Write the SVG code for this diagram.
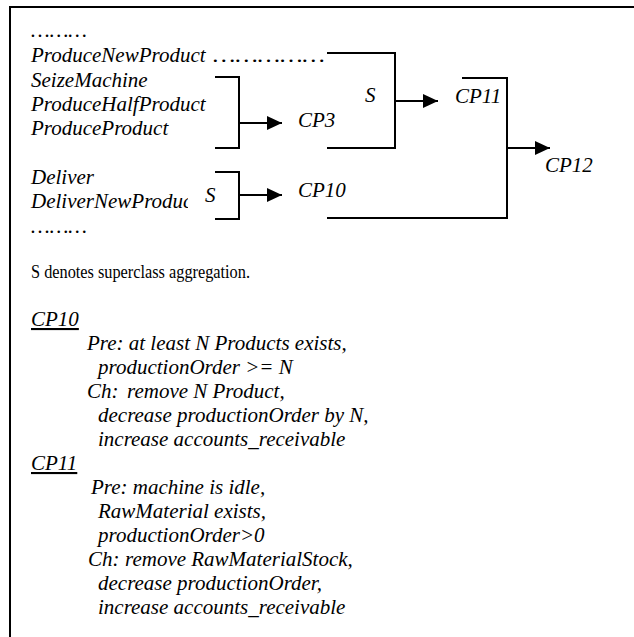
<svg xmlns="http://www.w3.org/2000/svg" width="634" height="637" viewBox="0 0 634 637">
<style>
text{font-family:"Liberation Serif","Times New Roman",serif;fill:#000}
.i{font-style:italic;font-size:21px}
.r{font-size:19px}
.u{text-decoration:underline}
.ln{stroke:#000;stroke-width:2;fill:none}
</style>
<defs>
<marker id="ah" markerUnits="userSpaceOnUse" markerWidth="16" markerHeight="15" refX="15" refY="7" orient="auto">
<path d="M0,0 L15,7 L0,14 z" fill="#000"/>
</marker>
<clipPath id="clipD"><rect x="0" y="180" width="188" height="40"/></clipPath>
</defs>
<rect width="634" height="637" fill="#fff"/>
<g id="frame">
<path class="ln" d="M10,637 V7 H634"/>
</g>
<g id="events">
<text class="i" x="31" y="37">………</text>
<text class="i" x="31" y="62">ProduceNewProduct</text>
<text class="i" x="213" y="62" textLength="112" lengthAdjust="spacingAndGlyphs">……………</text>
<text class="i" x="31" y="87">SeizeMachine</text>
<text class="i" x="31" y="111">ProduceHalfProduct</text>
<text class="i" x="31" y="135">ProduceProduct</text>
<text class="i" x="31" y="184">Deliver</text>
<text class="i" x="31" y="208" clip-path="url(#clipD)">DeliverNewProduc</text>
<text class="i" x="31" y="233">………</text>
</g>
<g id="CP3"><text class="i" x="298" y="127">CP3</text></g>
<g id="CP10"><text class="i" x="298" y="197">CP10</text></g>
<g id="CP11"><text class="i" x="455" y="103">CP11</text></g>
<g id="CP12"><text class="i" x="545" y="172">CP12</text></g>
<g id="connectors">
<path class="ln" d="M215,77 H239 V148 H215"/>
<line class="ln" x1="239" y1="123" x2="282" y2="123" marker-end="url(#ah)"/>
<path class="ln" d="M215,172 H239 V219 H215"/>
<line class="ln" x1="239" y1="195" x2="282" y2="195" marker-end="url(#ah)"/>
<text class="i" x="205" y="202">S</text>
<path class="ln" d="M327,53 H395 V148 H327"/>
<line class="ln" x1="395" y1="101" x2="438" y2="101" marker-end="url(#ah)"/>
<text class="i" x="365" y="102">S</text>
<path class="ln" d="M462,78 H507 V218 H327"/>
<line class="ln" x1="507" y1="148" x2="550" y2="148" marker-end="url(#ah)"/>
</g>
<g id="notes">
<text class="r" x="31" y="278" textLength="219" lengthAdjust="spacingAndGlyphs">S denotes superclass aggregation.</text>
<text class="i u" x="31" y="326">CP10</text>
<text class="i" x="87" y="350">Pre: at least N Products exists,</text>
<text class="i" x="98" y="374">productionOrder &gt;= N</text>
<text class="i" x="87" y="398">Ch:</text>
<text class="i" x="127" y="398">remove N Product,</text>
<text class="i" x="98" y="422">decrease productionOrder by N,</text>
<text class="i" x="98" y="446">increase accounts_receivable</text>
<text class="i u" x="31" y="470">CP11</text>
<text class="i" x="91" y="494">Pre: machine is idle,</text>
<text class="i" x="98" y="518">RawMaterial exists,</text>
<text class="i" x="98" y="542">productionOrder&gt;0</text>
<text class="i" x="88" y="566">Ch:</text>
<text class="i" x="125" y="566">remove RawMaterialStock,</text>
<text class="i" x="98" y="590">decrease productionOrder,</text>
<text class="i" x="98" y="614">increase accounts_receivable</text>
</g>
</svg>
